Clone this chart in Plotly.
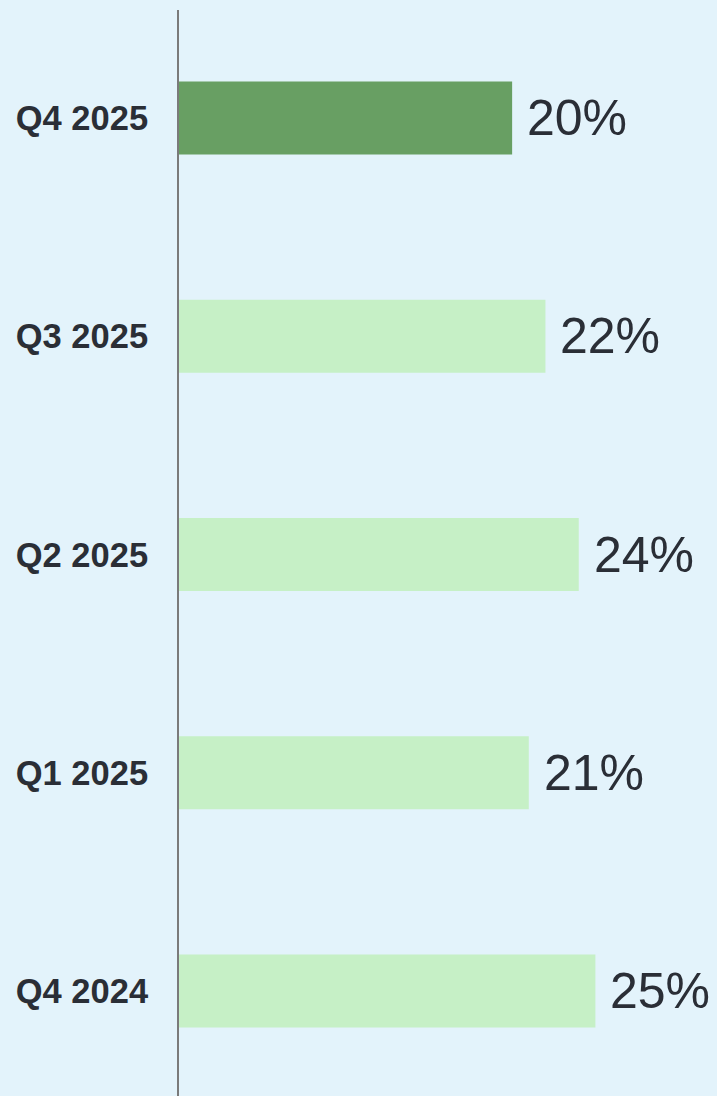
import plotly.graph_objects as go

# Quarterly shares, oldest first (drawn bottom to top)
quarters = ["Q4 2024", "Q1 2025", "Q2 2025", "Q3 2025", "Q4 2025"]
shares = [25, 21, 24, 22, 20]
value_labels = ["25%", "21%", "24%", "22%", "20%"]

BG = "#E3F3FB"
HIGHLIGHT = "#689F63"
BASE = "#C6F0C6"
TEXT = "#2A2E36"

colors = [HIGHLIGHT if q == "Q4 2025" else BASE for q in quarters]

fig = go.Figure(
    go.Bar(
        x=shares,
        y=quarters,
        orientation="h",
        width=0.334,
        marker=dict(color=colors, line=dict(width=0)),
        hoverinfo="skip",
    )
)

for q, v, lab in zip(quarters, shares, value_labels):
    fig.add_annotation(
        x=v, y=q, text=lab, showarrow=False,
        xanchor="left", yanchor="middle", xshift=13,
        font=dict(family="Liberation Sans, Arial, sans-serif", size=50, color=TEXT),
    )

fig.update_layout(
    width=717,
    height=1096,
    margin=dict(l=179, r=0, t=10, b=0),
    paper_bgcolor=BG,
    plot_bgcolor=BG,
    showlegend=False,
    xaxis=dict(
        range=[0, 32.3],
        showgrid=False, zeroline=False, showticklabels=False,
        showline=False, fixedrange=True,
    ),
    yaxis=dict(
        type="category",
        range=[-0.481, 4.495],
        showgrid=False, zeroline=False,
        showline=True, linecolor="#7A7A7A", linewidth=2,
        ticks="", ticklabelstandoff=22,
        tickfont=dict(family="Liberation Sans, Arial, sans-serif", size=34.5, color=TEXT, weight="bold"),
    ),
)

fig.write_html("out.html")
